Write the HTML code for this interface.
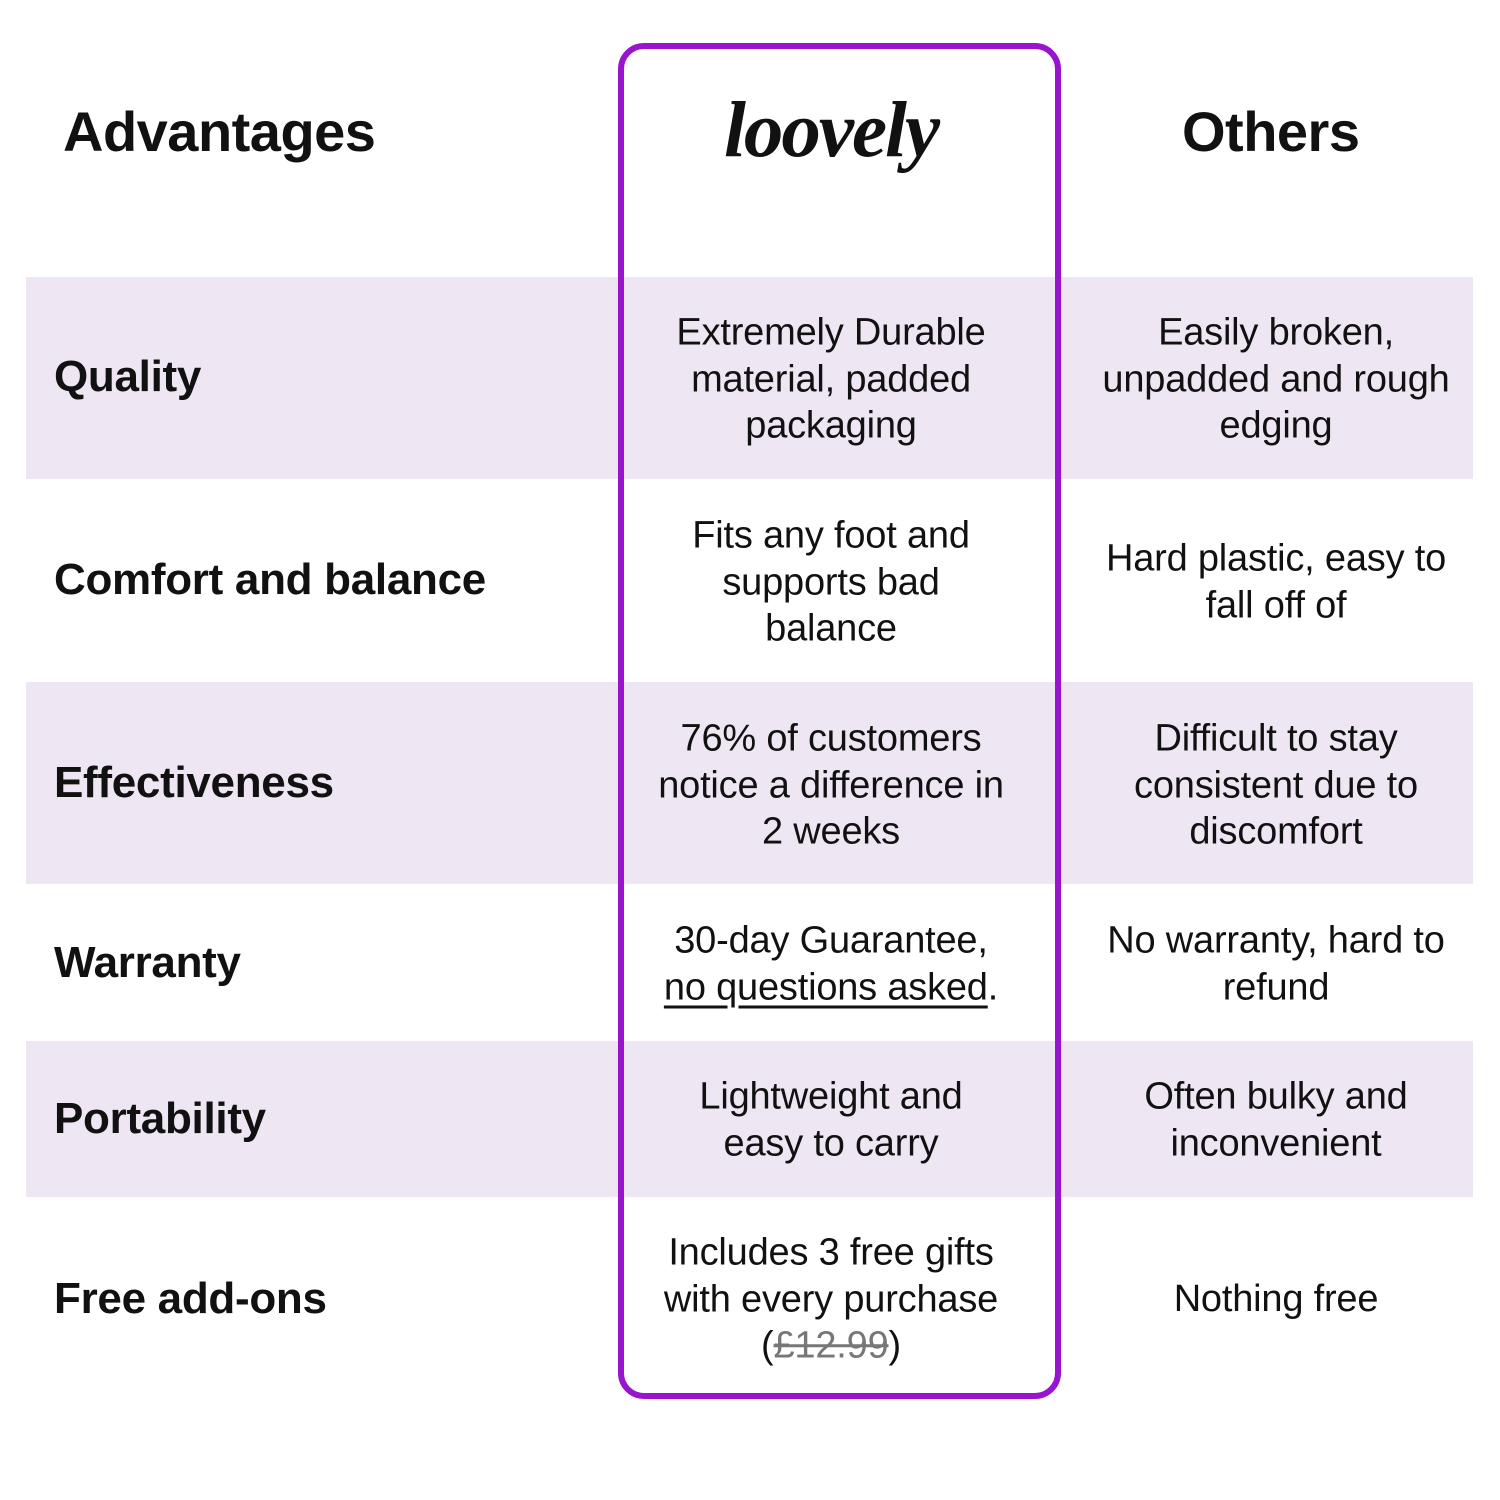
<!DOCTYPE html>
<html><head><meta charset="utf-8"><style>
body{margin:0;width:1500px;height:1500px;background:#fff;position:relative;overflow:hidden;font-family:"Liberation Sans",sans-serif;color:#111}
.band{position:absolute;left:26px;width:1447px;background:#efe6f4}
.lab{position:absolute;left:54px;font-weight:bold;font-size:44px;transform:translateY(-50%);letter-spacing:-0.3px}
.c{position:absolute;width:460px;text-align:center;font-size:38px;line-height:46.5px;transform:translateY(-50%);letter-spacing:-0.2px}
.m{left:601px}.o{left:1046px}
.box{position:absolute;left:618px;top:43px;width:431px;height:1344px;border:6px solid #9a14d0;border-radius:26px}
h1{position:absolute;margin:0;font-size:56px;font-weight:bold;top:99px;letter-spacing:-0.5px}
</style></head><body>
<div class="band" style="top:277px;height:202px"></div>
<div class="band" style="top:682px;height:202px"></div>
<div class="band" style="top:1041px;height:156px"></div>
<div class="box"></div>
<h1 style="left:63px">Advantages</h1>
<h1 style="left:1182px">Others</h1>
<div style="position:absolute;left:611px;width:440px;text-align:center;top:86px;font-family:'Liberation Serif',serif;font-style:italic;font-weight:bold;font-size:79px;letter-spacing:-2px">loovely</div>

<div class="lab" style="top:377px">Quality</div>
<div class="lab" style="top:580px">Comfort and balance</div>
<div class="lab" style="top:783px">Effectiveness</div>
<div class="lab" style="top:963px">Warranty</div>
<div class="lab" style="top:1119px">Portability</div>
<div class="lab" style="top:1299px">Free add-ons</div>

<div class="c m" style="top:379px">Extremely Durable<br>material, padded<br>packaging</div>
<div class="c o" style="top:379px">Easily broken,<br>unpadded and rough<br>edging</div>
<div class="c m" style="top:582px">Fits any foot and<br>supports bad<br>balance</div>
<div class="c o" style="top:582px">Hard plastic, easy to<br>fall off of</div>
<div class="c m" style="top:785px">76% of customers<br>notice a difference in<br>2 weeks</div>
<div class="c o" style="top:785px">Difficult to stay<br>consistent due to<br>discomfort</div>
<div class="c m" style="top:964px">30-day Guarantee,<br><span style="text-decoration:underline;text-underline-offset:6px">no questions asked</span>.</div>
<div class="c o" style="top:964px">No warranty, hard to<br>refund</div>
<div class="c m" style="top:1120px">Lightweight and<br>easy to carry</div>
<div class="c o" style="top:1120px">Often bulky and<br>inconvenient</div>
<div class="c m" style="top:1299px">Includes 3 free gifts<br>with every purchase<br>(<span style="color:#777;text-decoration:line-through">£12.99</span>)</div>
<div class="c o" style="top:1299px">Nothing free</div>
</body></html>
